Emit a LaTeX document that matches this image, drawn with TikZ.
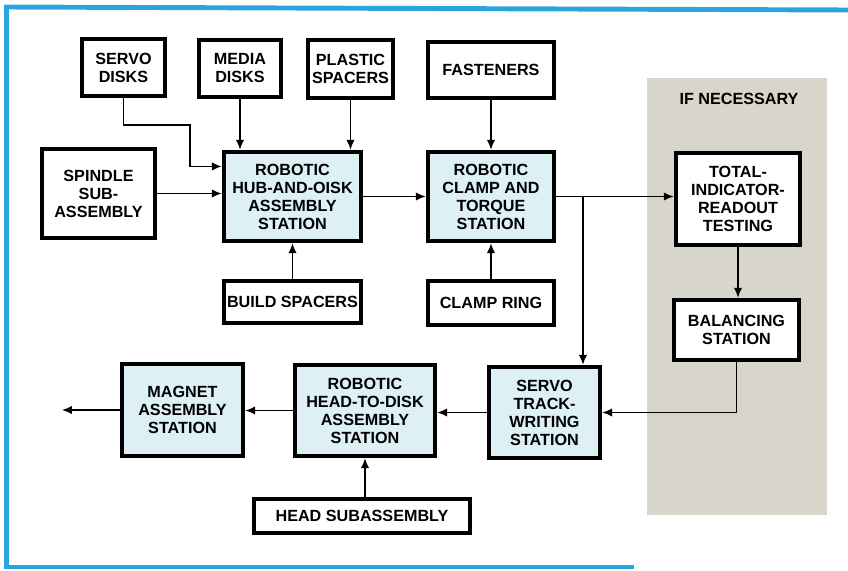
\documentclass[tikz,border=0pt]{standalone}
\usepackage{fontspec}
\setmainfont{Liberation Sans}
\usepackage{tikz}
\usetikzlibrary{arrows.meta}
\definecolor{frameblue}{HTML}{2AA4DD}
\definecolor{stationfill}{HTML}{DDF0F5}
\definecolor{panelgray}{HTML}{D8D5CB}

\begin{document}
\begin{tikzpicture}[
  x=0.025cm, y=-0.025cm,
  block/.style={draw=black, line width=3.2pt, fill=white, inner sep=0pt, align=center,
                font=\fontsize{11.5}{12.8}\selectfont\bfseries},
  station/.style={block, fill=stationfill},
  arr/.style={-{Latex[length=7pt,width=6pt]}, line width=1.1pt}
]
  \useasboundingbox (0,0) rectangle (848,571);
  % blue frame round the page
  \draw[frameblue, line width=3.5pt] (4,7) -- (848,10);
  \draw[frameblue, line width=3.5pt] (6.5,6) -- (6.5,568);
  \draw[frameblue, line width=3.5pt] (4,567) -- (634,567);

  % optional steps
  \fill[panelgray] (647,78) rectangle (827,515);
  \node[font=\fontsize{11.5}{12.8}\selectfont\bfseries] (ifnec) at (739,99) {IF NECESSARY};

  % parts going in
  \node[block, minimum width=2.075cm, minimum height=1.425cm] (servo) at (123.5,67.5) {SERVO\\DISKS};
  \node[block, minimum width=2.05cm, minimum height=1.425cm] (media) at (240,68.5) {MEDIA\\DISKS};
  \node[block, minimum width=2.125cm, minimum height=1.45cm] (plastic) at (350.5,69) {PLASTIC\\SPACERS};
  \node[block, minimum width=2.825cm, minimum height=2.225cm] (spindle) at (98.5,193.5) {SPINDLE\\SUB-\\ASSEMBLY};
  \node[block, minimum width=3.15cm, minimum height=1.4cm] (fasteners) at (491,70) {FASTENERS};
  \node[block, minimum width=3.425cm, minimum height=1.05cm] (build) at (292.5,302) {BUILD SPACERS};
  \node[block, minimum width=3.15cm, minimum height=1.1cm] (clampring) at (491,303) {CLAMP RING};
  \node[block, minimum width=5.4cm, minimum height=0.85cm] (headsub) at (362,516) {HEAD SUBASSEMBLY};

  % stations
  \node[station, minimum width=3.425cm, minimum height=2.225cm] (hub) at (292.5,196.5) {ROBOTIC\\HUB-AND-OISK\\ASSEMBLY\\STATION};
  \node[station, minimum width=3.15cm, minimum height=2.225cm] (clamp) at (491,196.5) {ROBOTIC\\CLAMP AND\\TORQUE\\STATION};
  \node[block, minimum width=3.1cm, minimum height=2.3cm] (tir) at (738,199) {TOTAL-\\INDICATOR-\\READOUT\\TESTING};
  \node[block, minimum width=3.125cm, minimum height=1.5cm] (balancing) at (736.5,330) {BALANCING\\STATION};
  \node[station, minimum width=2.775cm, minimum height=2.275cm] (track) at (544.5,412.5) {SERVO\\TRACK-\\WRITING\\STATION};
  \node[station, minimum width=3.5cm, minimum height=2.275cm] (headtodisk) at (365,410.5) {ROBOTIC\\HEAD-TO-DISK\\ASSEMBLY\\STATION};
  \node[station, minimum width=3.025cm, minimum height=2.3cm] (magnet) at (182.5,410) {MAGNET\\ASSEMBLY\\STATION};

  \coordinate (jog) at (190,125);
  \coordinate (split) at (583,196.5);
  \coordinate (exit) at (62,410);

  \draw[arr] (servo.south) |- (jog) |- (hub.157);
  \draw[arr] (spindle.east) -- (spindle.east -| hub.west);
  \draw[arr] (media.south) -- (media.south |- hub.north);
  \draw[arr] (plastic.south) -- (plastic.south |- hub.north);
  \draw[arr] (build) -- (hub);
  \draw[arr] (hub) -- (clamp);
  \draw[arr] (fasteners) -- (clamp);
  \draw[arr] (clampring) -- (clamp);
  \draw[arr] (clamp.east) -- (clamp.east -| tir.west);
  \draw[arr] (split) -- (split |- track.north);
  \draw[arr] (tir.south) -- (tir.south |- balancing.north);
  \draw[arr] (balancing.south) |- (track.east);
  \draw[arr] (track.west) -- (track.west -| headtodisk.east);
  \draw[arr] (headtodisk.west) -- (headtodisk.west -| magnet.east);
  \draw[arr] (magnet.west) -- (exit);
  \draw[arr] (headtodisk.south |- headsub.north) -- (headtodisk.south);
\end{tikzpicture}
\end{document}
